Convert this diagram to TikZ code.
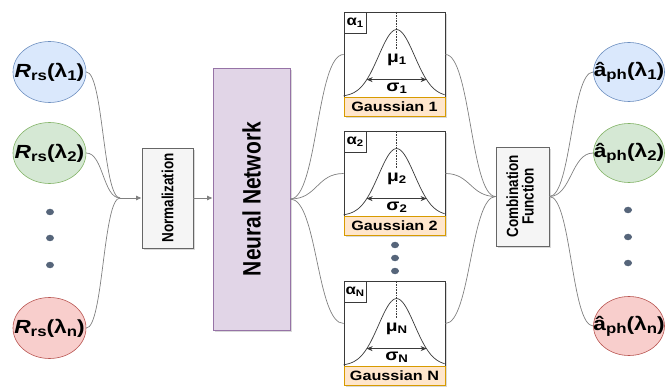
\documentclass[tikz,border=0pt]{standalone}
\usepackage{fontspec}
\setmainfont{Liberation Sans}[FakeStretch=1.2]
\newfontfamily\rotfont{Liberation Sans}
\usetikzlibrary{shadows,arrows.meta,calc,shapes.geometric}
\definecolor{bluef}{HTML}{DAE8FC}\definecolor{blued}{HTML}{6C8EBF}
\definecolor{greenf}{HTML}{D5E8D4}\definecolor{greend}{HTML}{82B366}
\definecolor{redf}{HTML}{F8CECC}\definecolor{redd}{HTML}{B85450}
\definecolor{purf}{HTML}{E1D5E7}\definecolor{purd}{HTML}{9673A6}
\definecolor{orf}{HTML}{FFE6CC}\definecolor{ord}{HTML}{D79B00}
\definecolor{grf}{HTML}{F5F5F5}\definecolor{grd}{HTML}{666666}
\definecolor{edgegray}{HTML}{808080}
\definecolor{dotc}{HTML}{56657A}
\definecolor{plotd}{HTML}{3A3A3A}
\newcommand\sbs[1]{\raisebox{-0.3ex}{\fontsize{14}{14}\selectfont #1}}
\newcommand\smsb[1]{\raisebox{-0.3ex}{\fontsize{11}{11}\selectfont #1}}
\newcommand\tinysb[1]{\raisebox{-0.3ex}{\fontsize{9.5}{9.5}\selectfont #1}}
\newcommand\Rrs[1]{\textit{R}\sbs{rs}(λ\sbs{#1})}
\newcommand\aph[1]{â\sbs{ph}(λ\sbs{#1})}
\newcommand\rtxt[1]{\rotatebox{90}{\scalebox{1}[1.2]{\rotfont\bfseries #1}}}
\begin{document}
\begin{tikzpicture}[x=1pt,y=-1pt,
  font=\bfseries,
  ell/.style={ellipse,draw,line width=0.6pt,inner sep=0pt},
  elltext/.style={inner sep=0pt,font=\fontsize{19}{19}\selectfont\bfseries},
  dotn/.style={ellipse,fill=dotc,inner sep=0pt,minimum width=8pt,minimum height=6.5pt},
  shad/.style={drop shadow={shadow xshift=1.6pt,shadow yshift=-1.6pt,opacity=0.25,fill=black!60}},
  graybox/.style={draw=grd,fill=grf,line width=0.7pt,inner sep=0pt,shad},
  plotbox/.style={draw=plotd,fill=white,line width=0.8pt,minimum width=101pt,minimum height=85pt,inner sep=0pt,shad},
  glabel/.style={draw=ord,fill=orf,line width=0.8pt,minimum width=101pt,minimum height=19pt,inner sep=0pt,font=\fontsize{13.5}{13.5}\selectfont\bfseries,shad},
  abox/.style={draw=plotd,fill=white,line width=0.6pt,minimum width=22pt,minimum height=21pt,inner sep=0pt,anchor=north west,font=\fontsize{14}{14}\selectfont\bfseries},
  glet/.style={font=\fontsize{16}{16}\selectfont\bfseries,inner sep=0.5pt},
  conn/.style={draw=edgegray,line width=0.7pt},
  arr/.style={conn,-{Triangle[length=5pt,width=4.5pt]},shorten >=0.5pt}
]
\useasboundingbox (0,0) rectangle (666,387);

% input ellipses
\node[ell,fill=bluef,draw=blued,minimum width=73pt,minimum height=61pt] (r1) at (49.5,72) {};
\node[elltext] (r1t) at (r1) {\Rrs{1}};
\node[ell,fill=greenf,draw=greend,minimum width=73pt,minimum height=61pt] (r2) at (49.5,153) {};
\node[elltext] (r2t) at (r2) {\Rrs{2}};
\node[ell,fill=redf,draw=redd,minimum width=73pt,minimum height=61pt] (rn) at (49.5,328) {};
\node[elltext] (rnt) at (rn) {\Rrs{n}};
\node[dotn] (ld1) at (50,212) {};
\node[dotn] (ld2) at (50,238) {};
\node[dotn] (ld3) at (50,265) {};

% normalization & NN
\node[graybox,minimum width=51pt,minimum height=100pt] (norm) at (167.5,198) {\fontsize{13.5}{13.5}\selectfont\rtxt{Normalization}};
\node[draw=purd,fill=purf,line width=0.7pt,inner sep=0pt,minimum width=77pt,minimum height=262pt,shad] (nn) at (251.5,199) {\fontsize{21}{21}\selectfont\rtxt{Neural Network}};

% gaussians
\node[plotbox] (g1) at (394.5,54.5) {};
\node[glabel] (g1l) at (394.5,106.5) {Gaussian 1};
\node[plotbox] (g2) at (394.5,173.5) {};
\node[glabel] (g2l) at (394.5,225.5) {Gaussian 2};
\node[plotbox] (gn) at (394.5,323.5) {};
\node[glabel] (gnl) at (394.5,375.5) {Gaussian N};
\node[dotn] (md1) at (395,245) {};
\node[dotn] (md2) at (395,258) {};
\node[dotn] (md3) at (395,271) {};

\foreach \g/\s in {g1/1,g2/2,gn/N}{
  \begin{scope}[shift={(\g.north west)}]
    \draw[plotd,line width=0.7pt] plot[domain=-53:48,samples=90] ({53+\x},{85-67*exp(-(\x*\x)/648)});
    \draw[plotd,line width=0.6pt,densely dotted] (53,0) -- (53,37);
    \node[glet] at (53,48) {μ\smsb{\s}};
    \draw[plotd,line width=0.8pt,{Stealth[length=6pt,width=5pt]}-{Stealth[length=6pt,width=5pt]}] (23,68) -- (83,68);
    \node[glet,inner sep=0pt] at (53,76.5) {σ\smsb{\s}};
    \node[abox] at (0,0) {α\tinysb{\s}};
  \end{scope}
}

% combination
\node[graybox,minimum width=53pt,minimum height=99pt] (comb) at (522.5,196.5) {\fontsize{13.5}{14}\selectfont\rtxt{\begin{tabular}{@{}c@{}}Combination\\[-1pt]Function\end{tabular}}};

% outputs
\node[ell,fill=bluef,draw=blued,minimum width=71pt,minimum height=59pt] (a1) at (629,72) {};
\node[elltext] (a1t) at (a1) {\aph{1}};
\node[ell,fill=greenf,draw=greend,minimum width=71pt,minimum height=59pt] (a2) at (629,153) {};
\node[elltext] (a2t) at (a2) {\aph{2}};
\node[ell,fill=redf,draw=redd,minimum width=71pt,minimum height=59pt] (an) at (629,326) {};
\node[elltext] (ant) at (an) {\aph{n}};
\node[dotn] (rd1) at (628,210) {};
\node[dotn] (rd2) at (628,237) {};
\node[dotn] (rd3) at (628,263) {};

% connectors
\coordinate (jin) at (120,198);
\foreach \e in {r1,r2,rn}
  \draw[conn] (\e.east) to[out=0,in=180,distance=17pt] (jin);
\draw[arr] (jin) -- (norm.west);
\draw[arr] (norm.east) -- (norm.east -| nn.west);
\foreach \g in {g1,g2,gn}{
  \draw[conn] (nn.east) to[out=0,in=180,distance=27pt] (\g.west);
  \draw[conn] (\g.east) to[out=0,in=180,distance=25pt] (comb.west);
}
\foreach \a in {a1,a2,an}
  \draw[conn] (comb.east) to[out=0,in=180,distance=22pt] (\a.west);
\end{tikzpicture}
\end{document}
